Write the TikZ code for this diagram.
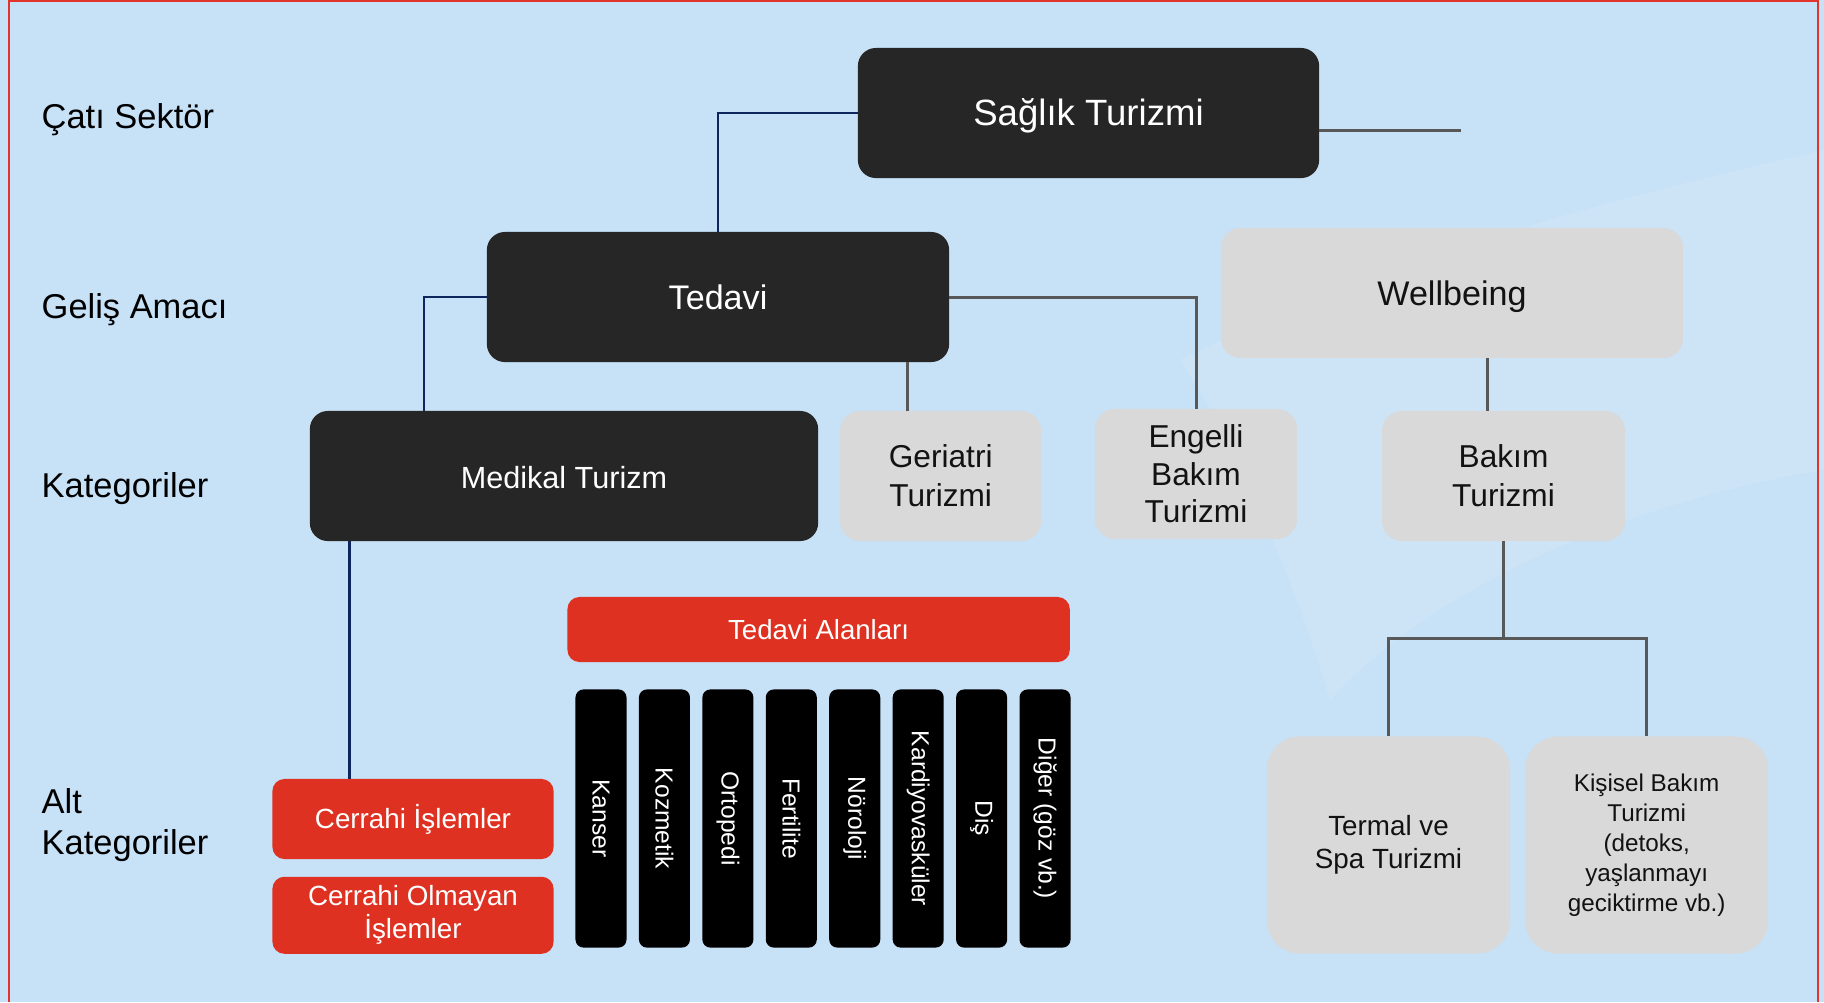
\documentclass[tikz,border=0pt]{standalone}
\usepackage{fontspec}
\setmainfont{Liberation Sans}
\usepackage{graphicx}
\usepackage{tikz}
\usetikzlibrary{positioning}
\definecolor{bgblue}{RGB}{199,225,247}
\definecolor{boxdark}{RGB}{38,38,38}
\definecolor{boxgrey}{RGB}{217,217,217}
\definecolor{boxred}{RGB}{222,49,33}
\definecolor{textdark}{RGB}{18,18,18}
\definecolor{linenavy}{RGB}{14,38,94}
\definecolor{linegrey}{RGB}{88,88,88}
\definecolor{framered}{RGB}{226,52,42}
\tikzset{
  box/.style={rectangle, inner sep=0pt, outer sep=0pt, align=center},
  oneline/.style={text height=0.93em, text depth=0.214em},
  darkbox/.style={box, oneline, fill=boxdark, text=white, rounded corners=0.18cm, minimum height=1.30cm},
  greybox/.style={box, fill=boxgrey, text=textdark, rounded corners=0.2cm, minimum height=1.30cm,
                  font=\fontsize{9}{11}\selectfont},
  redbox/.style={box, fill=boxred, text=white, rounded corners=0.12cm},
  barbox/.style={box, fill=black, text=white, rounded corners=0.08cm, minimum width=0.51cm,
                 minimum height=2.58cm, font=\fontsize{7}{8}\selectfont},
  rowlabel/.style={anchor=west, align=left, inner sep=0pt, text=black, font=\fontsize{9.8}{11.7}\selectfont},
  navyline/.style={draw=linenavy, line width=0.75pt},
  greyline/.style={draw=linegrey, line width=0.85pt}
}

\begin{document}
\begin{tikzpicture}[x=0.01cm, y=-0.01cm]
                   \fill[bgblue] (0,0) rectangle (1824,1002);
                   \useasboundingbox (0,0) rectangle (1824,1002);
                   \fill[white, opacity=0.12] (1180,360) .. controls (1400,250) and (1650,190) .. (1824,150)
                        -- (1824,470) .. controls (1640,500) and (1440,580) .. (1330,700)
                        .. controls (1290,570) and (1240,450) .. (1180,360);
                   \draw[framered, line width=0.6pt] (9,1002) -- (9,1) -- (1818,1) -- (1818,1002);

                   \node[rowlabel] (l_cati) at (41,120) {Çatı Sektör};
                   \node[rowlabel] (l_gelis) at (41,310) {Geliş Amacı};
                   \node[rowlabel] (l_kategori) at (41,489) {Kategoriler};
                   \node[rowlabel] (l_alt) at (41,825) {Alt\\Kategoriler};

                   \node[darkbox, minimum width=4.61cm, font=\fontsize{10.4}{12}\selectfont] (n_saglik) at (1088.5,113) {Sağlık Turizmi};
                   \node[darkbox, minimum width=4.62cm, font=\fontsize{9.7}{11}\selectfont] (n_tedavi) at (718,297) {Tedavi};
                   \node[greybox, oneline, minimum width=4.62cm, font=\fontsize{9.7}{11}\selectfont] (n_wellbeing) at (1452,293) {Wellbeing};
                   \node[darkbox, minimum width=5.08cm, font=\fontsize{8.7}{10}\selectfont] (n_medikal) at (564,476) {Medikal Turizm};
                   \node[greybox, minimum width=2.01cm] (n_geriatri) [right=0.22cm of n_medikal] {Geriatri\\Turizmi};
                   \node[greybox, minimum width=2.02cm, font=\fontsize{9}{10.7}\selectfont] (n_engelli) at (1196,474) {Engelli\\Bakım\\Turizmi};
                   \node[greybox, minimum width=2.43cm] (n_bakim) at (1503.5,476) {Bakım\\Turizmi};

                   \node[redbox, minimum width=5.02cm, minimum height=0.65cm, font=\fontsize{7.85}{9}\selectfont] (n_alanlar) at (818.6,629.5) {Tedavi Alanları};
                   \node[barbox] (n_kanser) at (601,818.5) {\rotatebox{-90}{Kanser}};
                   \node[barbox] (n_kozmetik) [right=0.124cm of n_kanser] {\rotatebox{-90}{Kozmetik}};
                   \node[barbox] (n_ortopedi) [right=0.124cm of n_kozmetik] {\rotatebox{-90}{Ortopedi}};
                   \node[barbox] (n_fertilite) [right=0.124cm of n_ortopedi] {\rotatebox{-90}{Fertilite}};
                   \node[barbox] (n_noroloji) [right=0.124cm of n_fertilite] {\rotatebox{-90}{Nöroloji}};
                   \node[barbox] (n_kardiyo) [right=0.124cm of n_noroloji] {\rotatebox{-90}{Kardiyovasküler}};
                   \node[barbox] (n_dis) [right=0.124cm of n_kardiyo] {\rotatebox{-90}{Diş}};
                   \node[barbox] (n_diger) [right=0.124cm of n_dis] {\rotatebox{-90}{Diğer (göz vb.)}};

                   \node[redbox, minimum width=2.81cm, minimum height=0.80cm, font=\fontsize{7.9}{9.4}\selectfont] (n_cerrahi) at (413,819) {Cerrahi İşlemler};
                   \node[redbox, minimum width=2.81cm, minimum height=0.77cm, font=\fontsize{7.9}{9.4}\selectfont] (n_olmayan) [below=0.177cm of n_cerrahi] {Cerrahi Olmayan\\İşlemler};

                   \node[greybox, minimum width=2.43cm, minimum height=2.17cm, rounded corners=0.33cm, font=\fontsize{7.9}{9.5}\selectfont] (n_termal) at (1388.5,845) {Termal ve\\Spa Turizmi};
                   \node[greybox, minimum width=2.43cm, minimum height=2.17cm, rounded corners=0.33cm, font=\fontsize{6.9}{8.55}\selectfont] (n_kisisel) [right=0.15cm of n_termal] {Kişisel Bakım\\Turizmi\\(detoks,\\yaşlanmayı\\geciktirme vb.)};

                   \coordinate (c_saglik_end) at (1461,130);
                   \draw[greyline] (n_saglik.east |- c_saglik_end) -- (c_saglik_end);
                   \draw[navyline] (n_saglik.west) -| (n_tedavi.north);
                   \draw[navyline] (n_tedavi.west) -| ([xshift=1.14cm]n_medikal.north west);
                   \draw[navyline] ([xshift=0.77cm]n_cerrahi.north west) -- ([xshift=0.77cm]n_cerrahi.north west |- n_medikal.south);
                   \draw[greyline] ([xshift=-0.335cm]n_geriatri.north) -- ([xshift=-0.335cm]n_geriatri.north |- n_tedavi.south);
                   \draw[greyline] (n_tedavi.east) -| (n_engelli.north);
                   \draw[greyline] ([xshift=-0.165cm]n_bakim.north) -- ([xshift=-0.165cm]n_bakim.north |- n_wellbeing.south);
                   \draw[greyline] (n_bakim.south) -- ++(0,97) coordinate (c_split);
                   \draw[greyline] (c_split) -| (n_termal.north);
                   \draw[greyline] (c_split) -| (n_kisisel.north);
                \end{tikzpicture}
\end{document}
